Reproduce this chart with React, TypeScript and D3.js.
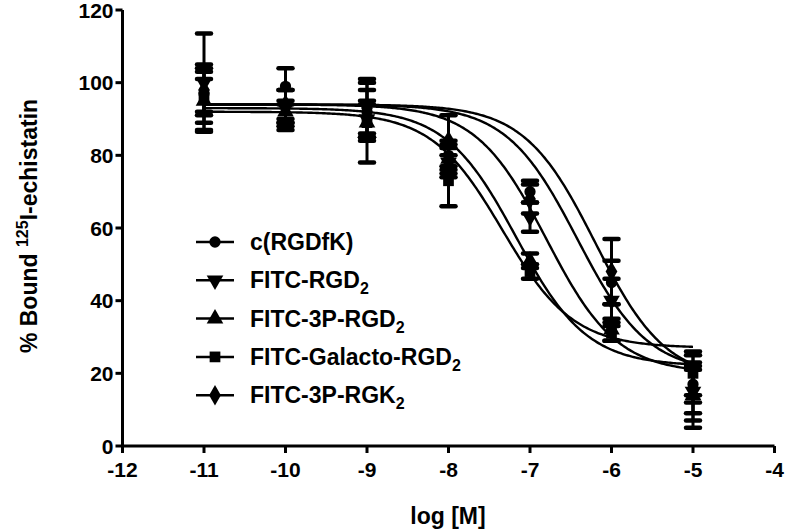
import React from "react";
import * as d3 from "d3";

const xTicks = [-12, -11, -10, -9, -8, -7, -6, -5, -4];
const yTicks = [0, 20, 40, 60, 80, 100, 120];
const doses = [-11, -10, -9, -8, -7, -6, -5];

const seriesNames = ["c(RGDfK)", "FITC-RGD", "FITC-3P-RGD", "FITC-Galacto-RGD", "FITC-3P-RGK"];
const seriesSubs = ["", "2", "2", "2", "2"];
const seriesSymbols = ["circle", "triDown", "triUp", "square", "diamond"];

const circleMean = [97, 99, 92, 80, 70, 45, 17];
const circleErr = [8, 5, 6, 4, 3, 6, 5];
const triDownMean = [100, 93, 90, 78, 63, 40, 15];
const triDownErr = [13.5, 5, 5, 4, 4, 6, 6];
const triUpMean = [95, 92, 89, 79, 51, 32, 14];
const triUpErr = [8, 3, 5, 4, 2, 3, 9];
const squareMean = [96, 88, 89, 73, 48, 31, 20];
const squareErr = [5, 1, 11, 7, 2, 2, 6];
const diamondMean = [98, 94, 93, 84, 68, 48, 16];
const diamondErr = [6, 4, 8, 7, 4, 9, 9];

// fitted curve parameters
const fitLogIC50 = [-6.42, -6.8, -7.17, -7.34, -6.2];
const fitTop = [94, 94, 93, 92, 94];
const fitBottom = [20, 20, 22, 27, 18];
const fitHill = [1, 1, 1, 1, 1];

const means = [circleMean, triDownMean, triUpMean, squareMean, diamondMean];
const errs = [circleErr, triDownErr, triUpErr, squareErr, diamondErr];

const W = 787;
const H = 532;
const FONT = "'Liberation Sans', Arial, sans-serif";

function symbolPath(kind: string): { d: string; rot: number } {
  if (kind === "circle") return { d: d3.symbol(d3.symbolCircle, 100)() as string, rot: 0 };
  if (kind === "square") return { d: d3.symbol(d3.symbolSquare, 115)() as string, rot: 0 };
  if (kind === "diamond") return { d: d3.symbol(d3.symbolDiamond, 120)() as string, rot: 0 };
  if (kind === "triUp") return { d: d3.symbol(d3.symbolTriangle, 120)() as string, rot: 0 };
  return { d: d3.symbol(d3.symbolTriangle, 120)() as string, rot: 180 };
}

export default function App() {
  const x = d3.scaleLinear().domain([-12, -4]).range([122.5, 774.5]);
  const y = d3.scaleLinear().domain([0, 120]).range([446, 10]);

  const curveXs = d3.range(-11, -4.999, 0.02);
  const line = d3
    .line<number>()
    .x((d) => x(d))
    .curve(d3.curveLinear);

  const capW = 7;

  return (
    <svg
      width={W}
      height={H}
      style={{ position: "absolute", left: 0, top: 0, background: "#fff" }}
      fontFamily={FONT}
    >
      <rect x={0} y={0} width={W} height={H} fill="#fff" />
      {/* curves */}
      {fitLogIC50.map((c, i) => {
        const l = line.y((v) =>
          y(fitBottom[i] + (fitTop[i] - fitBottom[i]) / (1 + Math.pow(10, fitHill[i] * (v - c))))
        );
        return <path key={"c" + i} d={l(curveXs) as string} fill="none" stroke="#000" strokeWidth={2.4} />;
      })}
      {/* error bars and points */}
      {means.map((arr, si) => {
        const sym = symbolPath(seriesSymbols[si]);
        return (
          <g key={"s" + si}>
            {arr.map((m, j) => {
              const cx = x(doses[j]);
              const top = y(m + errs[si][j]);
              const bot = y(m - errs[si][j]);
              return (
                <g key={j}>
                  <line x1={cx} x2={cx} y1={top} y2={bot} stroke="#000" strokeWidth={3} />
                  <line x1={cx - capW} x2={cx + capW} y1={top} y2={top} stroke="#000" strokeWidth={4.5} strokeLinecap="round" />
                  <line x1={cx - capW} x2={cx + capW} y1={bot} y2={bot} stroke="#000" strokeWidth={4.5} strokeLinecap="round" />
                  <path d={sym.d} transform={`translate(${cx},${y(m)}) rotate(${sym.rot})`} fill="#000" />
                </g>
              );
            })}
          </g>
        );
      })}
      {/* axes */}
      <line x1={x(-12)} x2={x(-4)} y1={y(0)} y2={y(0)} stroke="#000" strokeWidth={3} />
      <line x1={x(-12)} x2={x(-12)} y1={y(0) + 1.5} y2={y(120)} stroke="#000" strokeWidth={3} />
      {xTicks.map((t) => (
        <g key={"xt" + t}>
          <line x1={x(t)} x2={x(t)} y1={y(0)} y2={y(0) + 7} stroke="#000" strokeWidth={3} />
          <text x={x(t)} y={y(0) + 31} textAnchor="middle" fontSize={21} fontWeight="bold">
            {t}
          </text>
        </g>
      ))}
      {yTicks.map((t) => (
        <g key={"yt" + t}>
          <line x1={x(-12) - 7} x2={x(-12)} y1={y(t)} y2={y(t)} stroke="#000" strokeWidth={3} />
          <text x={x(-12) - 9} y={y(t) + 7.5} textAnchor="end" fontSize={21} fontWeight="bold">
            {t}
          </text>
        </g>
      ))}
      <text x={448} y={524} textAnchor="middle" fontSize={23} fontWeight="bold">
        log [M]
      </text>
      <text
        transform={`translate(37,226) rotate(-90)`}
        textAnchor="middle"
        fontSize={23}
        fontWeight="bold"
      >
        % Bound <tspan fontSize={16} dy={-9}>125</tspan>
        <tspan dy={9}>I-echistatin</tspan>
      </text>
      {/* legend */}
      {seriesNames.map((n, i) => {
        const ly = 242 + i * 38.3;
        const sym = symbolPath(seriesSymbols[i]);
        return (
          <g key={"lg" + i}>
            <line x1={196} x2={234} y1={ly} y2={ly} stroke="#000" strokeWidth={2.5} />
            <path d={sym.d} transform={`translate(215,${ly}) rotate(${sym.rot})`} fill="#000" />
            <text x={250} y={ly + 8} fontSize={23} fontWeight="bold">
              {n}
              {seriesSubs[i] ? (
                <tspan fontSize={16} dy={6}>
                  {seriesSubs[i]}
                </tspan>
              ) : null}
            </text>
          </g>
        );
      })}
    </svg>
  );
}
